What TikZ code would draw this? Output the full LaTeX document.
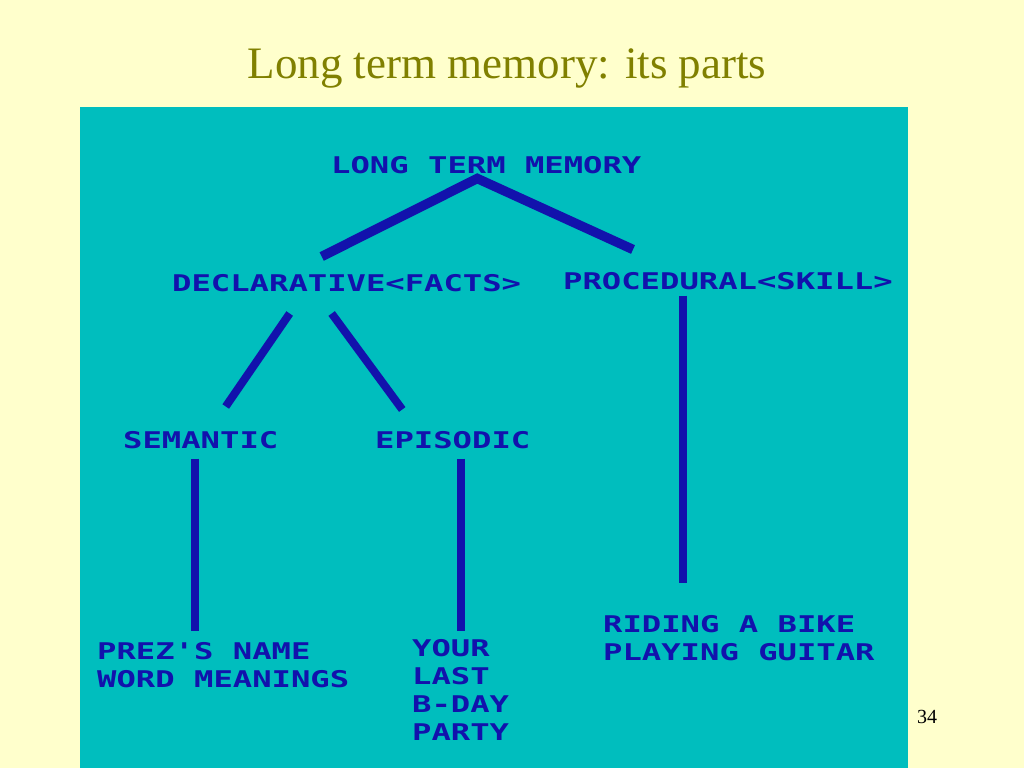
\documentclass[tikz,border=0pt]{standalone}
\usepackage{fontspec}
\setmainfont{Liberation Serif}
\newfontfamily\pixfont[FakeStretch=1.40]{DejaVu Sans Mono}
\usetikzlibrary{calc}
\definecolor{bgyellow}{RGB}{255,255,204}
\definecolor{panelteal}{RGB}{0,190,190}
\definecolor{pixblue}{RGB}{18,18,172}
\definecolor{titleolive}{RGB}{128,128,0}
\tikzset{
  pixlbl/.style={font=\pixfont\bfseries\fontsize{23}{28}\selectfont, text=pixblue, inner sep=0pt, anchor=west},
  pixmulti/.style={pixlbl, align=left, anchor=north west},
  conn/.style={draw=pixblue, line width=8pt},
  connthick/.style={draw=pixblue, line width=9.5pt, line join=miter}
}
\begin{document}
\begin{tikzpicture}[x=1pt,y=-1pt]
\useasboundingbox (0,0) rectangle (1024,768);
\fill[bgyellow] (0,0) rectangle (1024,768);
\fill[panelteal] (80,107) rectangle (908,768);

\node[font=\fontsize{45}{54}\selectfont, text=titleolive, inner sep=0pt, anchor=base] (title) at (507,78) {Long term memory: its parts};
\node[font=\fontsize{20}{24}\selectfont, text=black, inner sep=0pt] (pagenum) at (927,717) {34};

\node[pixlbl] (ltm) at (331,165) {LONG TERM MEMORY};
\node[pixlbl] (decl) at (172,283) {DECLARATIVE<FACTS>};
\node[pixlbl] (proc) at (563,281) {PROCEDURAL<SKILL>};
\node[pixlbl] (sem) at (123,440) {SEMANTIC};
\node[pixlbl] (epi) at (375,440) {EPISODIC};
\node[pixmulti] (prez) at (97,642.6) {PREZ'S NAME\\WORD MEANINGS};
\node[pixmulti] (your) at (412,639.6) {YOUR\\LAST\\B-DAY\\PARTY};
\node[pixmulti] (ride) at (603,615.6) {RIDING A BIKE\\PLAYING GUITAR};

\coordinate (apex) at ($(ltm.south)+(-9,4.6)$);
\draw[connthick] ($(decl.north)+(-25,-17.6)$) -- (apex) -- ($(proc.north west)+(70,-22.6)$);

\draw[conn] ($(decl.south)+(-57,21.6)$) -- ($(sem.north)+(25,-24.6)$);
\draw[conn] ($(decl.south)+(-15,21.6)$) -- ($(epi.north)+(-50.5,-21.6)$);

\coordinate (semtop) at ($(sem.south)+(-6,9.6)$);
\coordinate (epitop) at ($(epi.south)+(8,9.6)$);
\coordinate (proctop) at ($(proc.south)+(-45,5.6)$);
\coordinate (prezend) at ($(prez.north west)+(0,-11.6)$);
\coordinate (yourend) at ($(your.north west)+(0,-8.6)$);
\coordinate (rideend) at ($(ride.north west)+(0,-32.6)$);
\draw[conn] (semtop) -- (semtop |- prezend);
\draw[conn] (epitop) -- (epitop |- yourend);
\draw[conn] (proctop) -- (proctop |- rideend);
\end{tikzpicture}
\end{document}
